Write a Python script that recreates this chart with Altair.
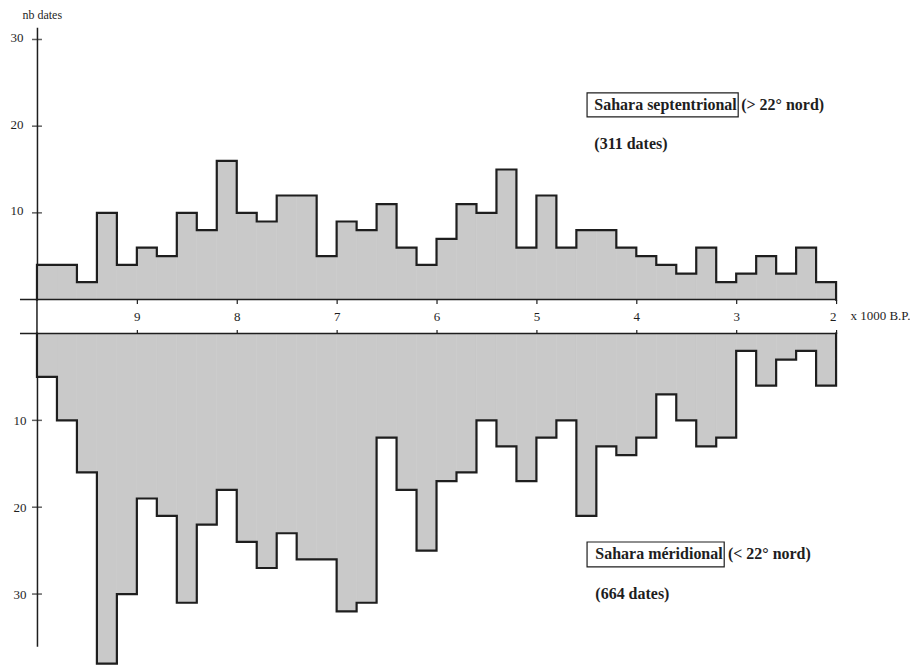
import altair as alt
import pandas as pd

# bin starts (x 1000 years B.P.), each bin is 200 years wide
bin_start = [10.0, 9.8, 9.6, 9.4, 9.2, 9.0, 8.8, 8.6, 8.4, 8.2,
             8.0, 7.8, 7.6, 7.4, 7.2, 7.0, 6.8, 6.6, 6.4, 6.2,
             6.0, 5.8, 5.6, 5.4, 5.2, 5.0, 4.8, 4.6, 4.4, 4.2,
             4.0, 3.8, 3.6, 3.4, 3.2, 3.0, 2.8, 2.6, 2.4, 2.2]
bin_width = 0.2

north = [4, 4, 2, 10, 4, 6, 5, 10, 8, 16,
         10, 9, 12, 12, 5, 9, 8, 11, 6, 4,
         7, 11, 10, 15, 6, 12, 6, 8, 8, 6,
         5, 4, 3, 6, 2, 3, 5, 3, 6, 2]
south = [5, 10, 16, 38, 30, 19, 21, 31, 22, 18,
         24, 27, 23, 26, 26, 32, 31, 12, 18, 25,
         17, 16, 10, 13, 17, 12, 10, 21, 13, 14,
         12, 7, 10, 13, 12, 2, 6, 3, 2, 6]

x_ticks = [9, 8, 7, 6, 5, 4, 3, 2]
y_ticks = [10, 20, 30]

north_labels = ["Sahara septentrional", "(> 22° nord)", "(311 dates)"]
south_labels = ["Sahara méridional", "(< 22° nord)", "(664 dates)"]

FONT = "Liberation Serif"
INK = "#1e1e1e"
FILL = "#c9c9c9"
W = 800
H_TOP = 272.5
H_BOT = 313
GAP = 33.5


def bars_df(vals):
    return pd.DataFrame({
        "start": bin_start,
        "end": [s - bin_width for s in bin_start],
        "value": vals,
        "base": [0] * len(vals),
    })


def outline_df(vals):
    xs, ys = [bin_start[0]], [0]
    for s, v in zip(bin_start, vals):
        xs += [s, s - bin_width]
        ys += [v, v]
    xs.append(bin_start[-1] - bin_width)
    ys.append(0)
    return pd.DataFrame({"start": xs, "value": ys, "i": list(range(len(xs)))})


def panel(vals, yscale, xaxis, yaxis, height, labels, lab_pos, box):
    xs = alt.Scale(domain=[10, 2], nice=False, zero=False)
    X = alt.X("start:Q", scale=xs, axis=xaxis)
    Y = alt.Y("value:Q", scale=yscale, axis=yaxis)
    bars = alt.Chart(bars_df(vals)).mark_rect(
        color=FILL, stroke=FILL, strokeWidth=0.6
    ).encode(x=X, x2="end:Q", y=Y, y2="base:Q")
    line = alt.Chart(outline_df(vals)).mark_line(
        color=INK, strokeWidth=2.2, strokeJoin="miter", strokeCap="square"
    ).encode(x=X, y=Y, order="i:Q")
    ticks = alt.Chart(pd.DataFrame({"value": y_ticks})).mark_tick(
        orient="horizontal", size=10, thickness=1.5, color=INK
    ).encode(x=alt.value(0), y=Y)
    one = pd.DataFrame({"a": [0]})
    base_y = height if yscale.reverse is not True else 0
    baseline = alt.Chart(one).mark_rule(color=INK, strokeWidth=1.5).encode(
        x=alt.value(-17), x2=alt.value(W), y=alt.value(base_y)
    )
    rect = alt.Chart(one).mark_rect(
        fillOpacity=0, stroke=INK, strokeWidth=1.2
    ).encode(
        x=alt.value(box[0]), x2=alt.value(box[1]),
        y=alt.value(box[2]), y2=alt.value(box[3])
    )
    lab = pd.DataFrame({"text": labels})
    texts = []
    for k in range(len(labels)):
        texts.append(
            alt.Chart(lab.iloc[[k]]).mark_text(
                align="left", baseline="middle", font=FONT, fontSize=16,
                fontWeight="bold", color=INK
            ).encode(
                x=alt.value(lab_pos[k][0]), y=alt.value(lab_pos[k][1]),
                text="text:N"
            )
        )
    layers = [bars, line, ticks, baseline, rect] + texts
    return alt.layer(*layers).properties(width=W, height=height)


top_x_axis = alt.Axis(values=x_ticks, format="d", tickSize=4, labelPadding=7,
                      grid=False, domain=False, title="x 1000 B.P.",
                      titleX=814, titleY=16, titleAlign="left",
                      titleBaseline="middle", titleFontWeight="normal",
                      titleFont=FONT, titleFontSize=13, titleColor=INK)
top_y_axis = alt.Axis(values=y_ticks, ticks=False, labelPadding=14, grid=False,
                      title="nb dates", titleAngle=0, titleX=-15, titleY=-13,
                      titleAlign="left", titleBaseline="middle",
                      titleFontWeight="normal", titleFont=FONT,
                      titleFontSize=12, titleColor=INK, labelOffset=-2)
bot_x_axis = alt.Axis(values=x_ticks, orient="top", labels=False, tickSize=4,
                      grid=False, domain=False, title=None)
bot_y_axis = alt.Axis(values=y_ticks, ticks=False, labelPadding=11, grid=False,
                      title=None)

top = panel(north, alt.Scale(domain=[0, 31.4], nice=False), top_x_axis,
            top_y_axis, H_TOP, north_labels,
            [(558, 78), (705, 78), (558, 116.5)], (550.7, 702, 65.7, 89.7))

axis_ext = alt.Chart(pd.DataFrame({"a": [0]})).mark_rule(
    color=INK, strokeWidth=1.5
).encode(x=alt.value(0), y=alt.value(H_TOP), y2=alt.value(H_TOP + GAP))
top = alt.layer(top, axis_ext)

bottom = panel(south, alt.Scale(domain=[0, 36], nice=False, reverse=True),
               bot_x_axis, bot_y_axis, H_BOT, south_labels,
               [(559, 221), (691.7, 221), (559, 260.7)], (550.7, 688, 208.7, 233.7))

chart = alt.vconcat(top, bottom, spacing=GAP, bounds="flush").properties(
    padding={"left": 2, "top": 0, "right": 0, "bottom": 0}
).configure_view(stroke=None).configure_axis(
    domainColor=INK, domainWidth=1.5, tickColor=INK, tickWidth=1.2,
    labelFont=FONT, labelFontSize=13, labelColor=INK,
)

chart.save("out.html", embed_options={"renderer": "svg", "actions": False})
